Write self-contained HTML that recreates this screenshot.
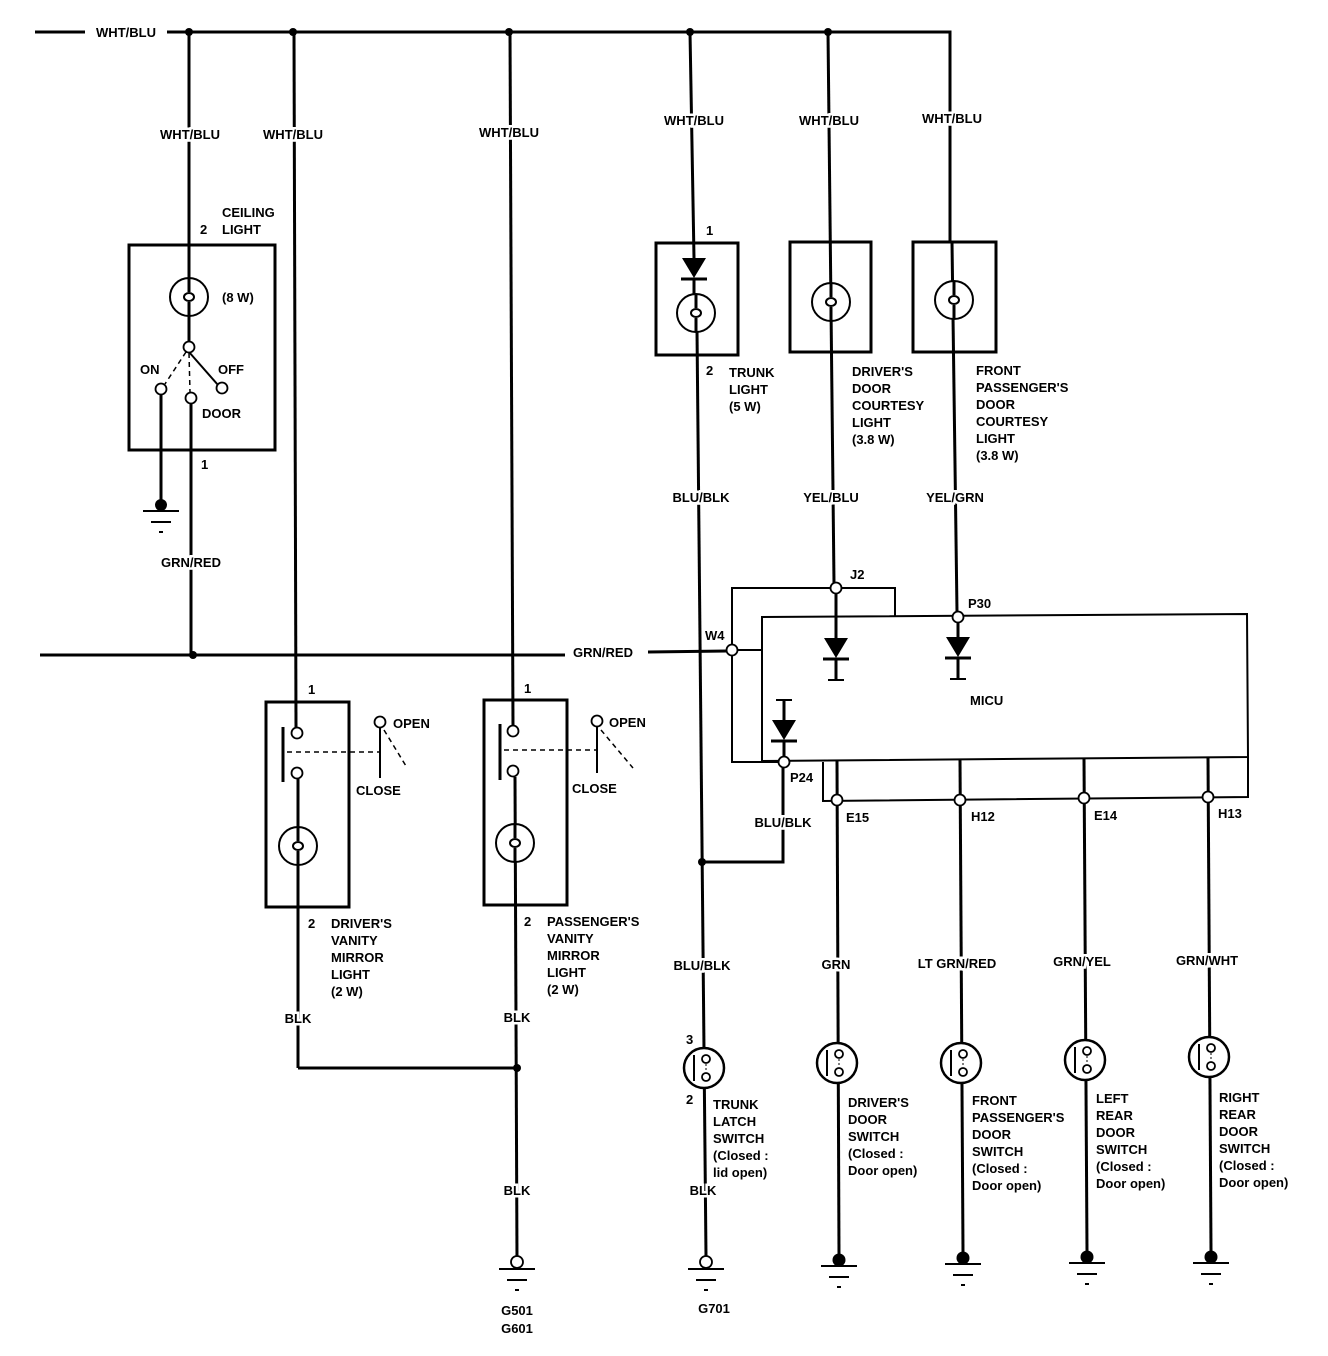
<!DOCTYPE html>
<html><head><meta charset="utf-8"><style>
html,body{margin:0;padding:0;background:#fff}
svg{display:block}
text{font-family:"Liberation Sans",sans-serif;font-weight:bold;font-size:13px;fill:#000}
.w{stroke:#000;stroke-width:3;fill:none}
.t{stroke:#000;stroke-width:2;fill:none}
.d{stroke:#000;stroke-width:1.5;fill:none;stroke-dasharray:5,4}
.h{stroke:#fff;stroke-width:5;paint-order:stroke;text-anchor:middle}
.o{fill:#fff;stroke:#000;stroke-width:1.8}
</style></head><body>
<svg width="1328" height="1356" viewBox="0 0 1328 1356" xmlns="http://www.w3.org/2000/svg">
<defs>
<g id="lamp"><circle r="19" stroke="#000" stroke-width="2" fill="#fff"/><ellipse cx="0" cy="0" rx="5" ry="4" class="t" stroke-width="1.5"/><line x1="0" y1="-19" x2="0" y2="-5" class="w"/><line x1="0" y1="5" x2="0" y2="19" class="w"/></g>
<g id="gnd"><line x1="-18" y1="0" x2="18" y2="0" class="t"/><line x1="-10" y1="11" x2="10" y2="11" class="t" stroke-width="1.5"/><line x1="-2" y1="21" x2="2" y2="21" class="t" stroke-width="1.5"/></g>
<g id="sw"><circle r="20" fill="#fff" stroke="#000" stroke-width="2.5"/><line x1="-10" y1="-13" x2="-10" y2="13" class="t"/><line x1="2" y1="-4" x2="2" y2="4" stroke="#000" stroke-width="1" stroke-dasharray="2,2"/><circle cx="2" cy="-9" r="4" class="o" stroke-width="1.3"/><circle cx="2" cy="9" r="4" class="o" stroke-width="1.3"/></g>
<g id="dio"><polygon points="-12,0 12,0 0,20" fill="#000"/><line x1="-13" y1="21" x2="13" y2="21" stroke="#000" stroke-width="3"/></g>
</defs>

<!-- top bus -->
<line x1="35" y1="32" x2="85" y2="32" class="w"/>
<text x="126" y="37" text-anchor="middle">WHT/BLU</text>
<polyline points="167,32 950,32 950,242" class="w"/>
<circle cx="189" cy="32" r="4"/><circle cx="293" cy="32" r="4"/><circle cx="509" cy="32" r="4"/><circle cx="690" cy="32" r="4"/><circle cx="828" cy="32" r="4"/>

<!-- ceiling light -->
<line x1="189" y1="32" x2="189" y2="280" class="w"/>
<rect x="129" y="245" width="146" height="205" class="w" fill="none"/>
<line x1="189" y1="316" x2="189" y2="342" class="w"/>
<line x1="161" y1="395" x2="161" y2="505" class="w"/>
<line x1="191" y1="400" x2="191" y2="655" class="w"/>
<line x1="189" y1="352" x2="218" y2="385" class="t"/>
<line x1="186" y1="352" x2="165" y2="384" class="d"/>
<line x1="189" y1="353" x2="190" y2="392" class="d"/>
<circle cx="189" cy="347" r="5.5" class="o"/>
<circle cx="161" cy="389" r="5.5" class="o"/>
<circle cx="191" cy="398" r="5.5" class="o"/>
<circle cx="222" cy="388" r="5.5" class="o"/>
<circle cx="161" cy="505" r="6"/><use href="#gnd" x="161" y="511"/>
<text x="222" y="217">CEILING</text><text x="222" y="234">LIGHT</text>
<text x="200" y="234">2</text><text x="222" y="302">(8 W)</text>
<text x="140" y="374">ON</text><text x="218" y="374">OFF</text><text x="202" y="418">DOOR</text>
<text x="201" y="469">1</text>
<text x="191" y="567" class="h">GRN/RED</text>
<text x="190" y="139" class="h">WHT/BLU</text>

<!-- GRN/RED bus -->
<line x1="40" y1="655" x2="565" y2="655" class="w"/>
<text x="603" y="657" text-anchor="middle">GRN/RED</text>
<line x1="648" y1="652" x2="727" y2="651" class="w"/>
<circle cx="193" cy="655" r="4"/>

<!-- driver vanity -->
<line x1="294" y1="32" x2="296" y2="728" class="w"/>
<text x="293" y="139" class="h">WHT/BLU</text>
<rect x="266" y="702" width="83" height="205" class="w"/>
<line x1="283" y1="727" x2="283" y2="782" class="w"/>
<line x1="287" y1="752" x2="380" y2="752" class="d"/>
<circle cx="297" cy="733" r="5.5" class="o"/>
<circle cx="297" cy="773" r="5.5" class="o"/>
<line x1="298" y1="779" x2="298" y2="1068" class="w"/>
<circle cx="380" cy="722" r="5.5" class="o"/>
<line x1="380" y1="728" x2="380" y2="778" class="t" stroke-width="2.5"/>
<line x1="384" y1="730" x2="406" y2="766" class="d" stroke-width="1.2"/>
<text x="393" y="728">OPEN</text><text x="356" y="795">CLOSE</text>
<text x="308" y="694">1</text><text x="308" y="928">2</text>
<text x="331" y="928">DRIVER'S</text><text x="331" y="945">VANITY</text><text x="331" y="962">MIRROR</text><text x="331" y="979">LIGHT</text><text x="331" y="996">(2 W)</text>
<text x="298" y="1023" class="h">BLK</text>
<line x1="298" y1="1068" x2="517" y2="1068" class="w"/>

<!-- passenger vanity -->
<line x1="510" y1="32" x2="513" y2="726" class="w"/>
<text x="509" y="137" class="h">WHT/BLU</text>
<rect x="484" y="700" width="83" height="205" class="w"/>
<line x1="500" y1="724" x2="500" y2="780" class="w"/>
<line x1="504" y1="750" x2="596" y2="750" class="d"/>
<circle cx="513" cy="731" r="5.5" class="o"/>
<circle cx="513" cy="771" r="5.5" class="o"/>
<line x1="515" y1="777" x2="517" y2="1262" class="w"/>
<circle cx="597" cy="721" r="5.5" class="o"/>
<line x1="597" y1="727" x2="597" y2="773" class="t" stroke-width="2.5"/>
<line x1="601" y1="730" x2="633" y2="768" class="d" stroke-width="1.2"/>
<text x="609" y="727">OPEN</text><text x="572" y="793">CLOSE</text>
<text x="524" y="693">1</text><text x="524" y="926">2</text>
<text x="547" y="926">PASSENGER'S</text><text x="547" y="943">VANITY</text><text x="547" y="960">MIRROR</text><text x="547" y="977">LIGHT</text><text x="547" y="994">(2 W)</text>
<text x="517" y="1022" class="h">BLK</text>
<text x="517" y="1195" class="h">BLK</text>
<circle cx="517" cy="1068" r="4"/>
<circle cx="517" cy="1262" r="6" class="o" stroke-width="2"/><use href="#gnd" x="517" y="1269"/>
<text x="517" y="1315" text-anchor="middle">G501</text><text x="517" y="1333" text-anchor="middle">G601</text>

<!-- trunk light -->
<line x1="690" y1="32" x2="694" y2="258" class="w"/>
<text x="694" y="125" class="h">WHT/BLU</text>
<rect x="656" y="243" width="82" height="112" class="w"/>
<use href="#dio" x="694" y="258"/>
<line x1="694" y1="279" x2="694" y2="296" class="w"/>
<line x1="697" y1="330" x2="706" y2="1256" class="w"/>
<text x="706" y="235">1</text><text x="706" y="375">2</text>
<text x="729" y="377">TRUNK</text><text x="729" y="394">LIGHT</text><text x="729" y="411">(5 W)</text>
<text x="701" y="502" class="h">BLU/BLK</text>
<text x="702" y="970" class="h">BLU/BLK</text>
<circle cx="702" cy="862" r="4"/>
<polyline points="702,862 783,862 783,767" class="w"/>
<use href="#sw" x="704" y="1068"/>
<text x="686" y="1044">3</text><text x="686" y="1104">2</text>
<text x="713" y="1109">TRUNK</text><text x="713" y="1126">LATCH</text><text x="713" y="1143">SWITCH</text><text x="713" y="1160">(Closed :</text><text x="713" y="1177">lid open)</text>
<text x="703" y="1195" class="h">BLK</text>
<circle cx="706" cy="1262" r="6" class="o" stroke-width="2"/><use href="#gnd" x="706" y="1269"/>
<text x="714" y="1313" text-anchor="middle">G701</text>

<!-- driver courtesy -->
<line x1="828" y1="32" x2="834" y2="583" class="w"/>
<text x="829" y="125" class="h">WHT/BLU</text>
<rect x="790" y="242" width="81" height="110" class="w"/>
<text x="852" y="376">DRIVER'S</text><text x="852" y="393">DOOR</text><text x="852" y="410">COURTESY</text><text x="852" y="427">LIGHT</text><text x="852" y="444">(3.8 W)</text>
<text x="831" y="502" class="h">YEL/BLU</text>

<!-- front pass courtesy -->
<rect x="913" y="242" width="83" height="110" class="w"/>
<line x1="952" y1="242" x2="957" y2="612" class="w"/>
<text x="952" y="123" class="h">WHT/BLU</text>
<text x="976" y="375">FRONT</text><text x="976" y="392">PASSENGER'S</text><text x="976" y="409">DOOR</text><text x="976" y="426">COURTESY</text><text x="976" y="443">LIGHT</text><text x="976" y="460">(3.8 W)</text>
<text x="955" y="502" class="h">YEL/GRN</text>

<!-- lamps on top -->
<use href="#lamp" x="189" y="297"/>
<use href="#lamp" x="298" y="846"/>
<use href="#lamp" x="515" y="843"/>
<use href="#lamp" x="696" y="313"/>
<use href="#lamp" x="831" y="302"/>
<use href="#lamp" x="954" y="300"/>

<!-- MICU -->
<polyline points="732,646 732,588 895,588 895,617" class="t" stroke-width="2.5"/>
<polyline points="732,655 732,762 779,762" class="t" stroke-width="2.5"/>
<polygon points="762,617 1247,614 1248,757 762,761" class="t" stroke-width="2.5"/>
<line x1="737" y1="650" x2="762" y2="650" class="t" stroke-width="2.5"/>
<polyline points="823,762 823,801 1248,797 1248,757" class="t" stroke-width="2.5"/>
<line x1="836" y1="593" x2="836" y2="638" class="w"/>
<use href="#dio" x="836" y="638"/><line x1="836" y1="659" x2="836" y2="680" class="w"/><line x1="828" y1="680" x2="844" y2="680" class="t" stroke-width="1.2"/>
<line x1="958" y1="622" x2="958" y2="637" class="w"/>
<use href="#dio" x="958" y="637"/><line x1="958" y1="658" x2="958" y2="679" class="w"/><line x1="950" y1="679" x2="966" y2="679" class="t" stroke-width="1.2"/>
<line x1="784" y1="700" x2="784" y2="720" class="w"/><line x1="776" y1="700" x2="792" y2="700" class="t" stroke-width="1.2"/>
<use href="#dio" x="784" y="720"/><line x1="784" y1="741" x2="784" y2="757" class="w"/>
<circle cx="836" cy="588" r="5.5" class="o"/>
<circle cx="958" cy="617" r="5.5" class="o"/>
<circle cx="732" cy="650" r="5.5" class="o"/>
<circle cx="784" cy="762" r="5.5" class="o"/>
<text x="850" y="579">J2</text><text x="968" y="608">P30</text><text x="705" y="640">W4</text>
<text x="970" y="705">MICU</text><text x="790" y="782">P24</text>
<text x="783" y="827" class="h">BLU/BLK</text>
<text x="846" y="822">E15</text><text x="971" y="821">H12</text><text x="1094" y="820">E14</text><text x="1218" y="818">H13</text>

<!-- door switches -->
<line x1="837" y1="761" x2="839" y2="1254" class="w"/>
<line x1="960" y1="759" x2="963" y2="1252" class="w"/>
<line x1="1084" y1="758" x2="1087" y2="1251" class="w"/>
<line x1="1208" y1="757" x2="1211" y2="1251" class="w"/>
<circle cx="837" cy="800" r="5.5" class="o"/>
<circle cx="960" cy="800" r="5.5" class="o"/>
<circle cx="1084" cy="798" r="5.5" class="o"/>
<circle cx="1208" cy="797" r="5.5" class="o"/>
<text x="836" y="969" class="h">GRN</text>
<text x="957" y="968" class="h">LT GRN/RED</text>
<text x="1082" y="966" class="h">GRN/YEL</text>
<text x="1207" y="965" class="h">GRN/WHT</text>
<use href="#sw" x="837" y="1063"/>
<use href="#sw" x="961" y="1063"/>
<use href="#sw" x="1085" y="1060"/>
<use href="#sw" x="1209" y="1057"/>
<text x="848" y="1107">DRIVER'S</text><text x="848" y="1124">DOOR</text><text x="848" y="1141">SWITCH</text><text x="848" y="1158">(Closed :</text><text x="848" y="1175">Door open)</text>
<text x="972" y="1105">FRONT</text><text x="972" y="1122">PASSENGER'S</text><text x="972" y="1139">DOOR</text><text x="972" y="1156">SWITCH</text><text x="972" y="1173">(Closed :</text><text x="972" y="1190">Door open)</text>
<text x="1096" y="1103">LEFT</text><text x="1096" y="1120">REAR</text><text x="1096" y="1137">DOOR</text><text x="1096" y="1154">SWITCH</text><text x="1096" y="1171">(Closed :</text><text x="1096" y="1188">Door open)</text>
<text x="1219" y="1102">RIGHT</text><text x="1219" y="1119">REAR</text><text x="1219" y="1136">DOOR</text><text x="1219" y="1153">SWITCH</text><text x="1219" y="1170">(Closed :</text><text x="1219" y="1187">Door open)</text>
<circle cx="839" cy="1260" r="6.5"/><use href="#gnd" x="839" y="1266"/>
<circle cx="963" cy="1258" r="6.5"/><use href="#gnd" x="963" y="1264"/>
<circle cx="1087" cy="1257" r="6.5"/><use href="#gnd" x="1087" y="1263"/>
<circle cx="1211" cy="1257" r="6.5"/><use href="#gnd" x="1211" y="1263"/>
</svg>
</body></html>
